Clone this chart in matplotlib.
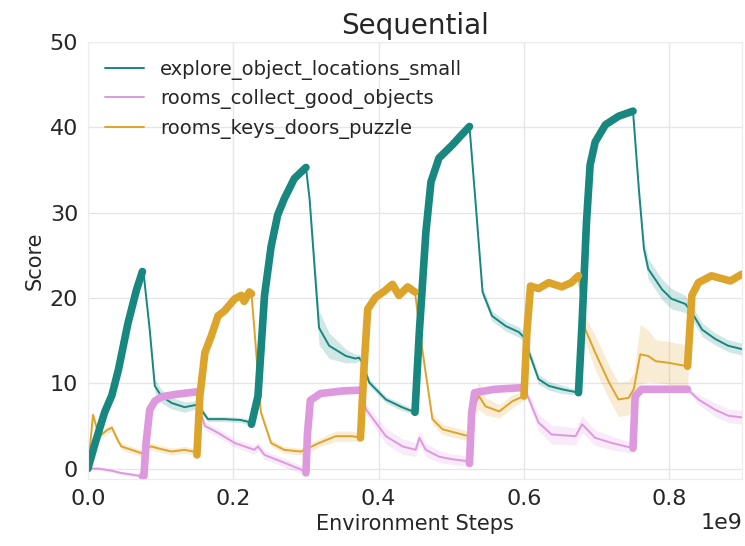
import numpy as np
import matplotlib
matplotlib.use('Agg')
from matplotlib import pyplot as plt
from matplotlib.ticker import MultipleLocator, ScalarFormatter
import seaborn as sns

sns.set_style('whitegrid')
plt.rcParams['font.family'] = ['DejaVu Sans']

# x in units of 1e9 environment steps
explore_x = [0.000, 0.010, 0.023, 0.033, 0.042, 0.055, 0.067, 0.075, 0.077, 0.085,
             0.092, 0.101, 0.115, 0.133, 0.145, 0.151, 0.165, 0.188, 0.210, 0.220,
             0.225, 0.234, 0.243, 0.252, 0.261, 0.270, 0.284, 0.300, 0.305, 0.318,
             0.332, 0.355, 0.368, 0.373, 0.378, 0.387, 0.410, 0.432, 0.450, 0.456,
             0.465, 0.472, 0.483, 0.501, 0.515, 0.525, 0.533, 0.543, 0.556, 0.575,
             0.593, 0.602, 0.607, 0.620, 0.634, 0.652, 0.675, 0.680, 0.686, 0.691,
             0.698, 0.712, 0.730, 0.750, 0.758, 0.765, 0.771, 0.790, 0.803, 0.822,
             0.831, 0.845, 0.863, 0.881, 0.900]
explore_y = [0.0, 3.0, 6.6, 8.6, 11.6, 17.0, 21.0, 23.1, 22.6, 16.3,
             9.7, 8.5, 7.7, 7.2, 7.4, 7.5, 5.8, 5.8, 5.7, 5.5,
             5.2, 8.5, 20.3, 26.0, 29.7, 31.6, 34.0, 35.3, 31.6, 16.5,
             14.4, 13.2, 12.9, 13.0, 12.4, 10.1, 8.1, 7.2, 6.6, 16.0,
             27.7, 33.6, 36.4, 37.9, 39.2, 40.1, 31.6, 20.7, 17.9, 16.7,
             16.0, 15.2, 13.6, 10.5, 9.7, 9.3, 8.9, 17.2, 28.9, 35.6,
             38.3, 40.3, 41.3, 41.9, 32.8, 25.8, 23.4, 21.0, 19.9, 19.3,
             18.3, 16.3, 15.2, 14.4, 14.0]
explore_band = [0.1, 0.3, 0.3, 0.3, 0.3, 0.3, 0.3, 0.3, 0.3, 0.5,
                0.8, 0.8, 0.7, 0.6, 0.5, 0.4, 0.3, 0.3, 0.3, 0.3,
                0.3, 0.3, 0.3, 0.3, 0.3, 0.3, 0.3, 0.3, 0.5, 2.0,
                1.5, 0.8, 0.5, 0.4, 0.4, 0.4, 0.4, 0.4, 0.3, 0.3,
                0.3, 0.3, 0.3, 0.3, 0.3, 0.3, 0.5, 0.6, 0.6, 0.6,
                0.6, 0.6, 0.6, 0.6, 0.5, 0.5, 0.3, 0.3, 0.3, 0.3,
                0.3, 0.3, 0.3, 0.3, 0.6, 1.0, 1.2, 1.2, 1.2, 1.0,
                0.8, 0.8, 0.7, 0.7, 0.7]

collect_x = [0.000, 0.015, 0.030, 0.045, 0.060, 0.075, 0.077, 0.080, 0.085, 0.092,
             0.101, 0.120, 0.150, 0.153, 0.161, 0.179, 0.202, 0.229, 0.234, 0.243,
             0.270, 0.293, 0.300, 0.302, 0.306, 0.320, 0.350, 0.375, 0.383, 0.410,
             0.433, 0.451, 0.456, 0.465, 0.483, 0.501, 0.520, 0.525, 0.528, 0.532,
             0.560, 0.600, 0.607, 0.620, 0.638, 0.671, 0.680, 0.698, 0.721, 0.750,
             0.753, 0.762, 0.800, 0.825, 0.840, 0.863, 0.881, 0.900]
collect_y = [0.0, 0.0, -0.2, -0.5, -0.7, -0.9, -0.9, 3.0, 6.9, 7.9,
             8.4, 8.7, 9.0, 7.0, 5.0, 4.2, 3.0, 2.2, 2.6, 1.6,
             0.7, -0.1, -0.5, 4.0, 8.0, 8.8, 9.1, 9.2, 6.9, 3.8,
             2.6, 2.2, 3.6, 2.2, 1.4, 1.1, 0.9, 0.6, 6.5, 8.9,
             9.3, 9.5, 8.1, 5.4, 4.0, 3.8, 5.2, 3.6, 3.0, 2.4,
             8.5, 9.3, 9.3, 9.3, 8.1, 6.9, 6.2, 6.0]
collect_band = [0.1, 0.2, 0.2, 0.2, 0.2, 0.2, 0.2, 0.2, 0.2, 0.2,
                0.2, 0.2, 0.2, 0.4, 0.5, 0.5, 0.5, 0.5, 0.5, 0.5,
                0.5, 0.5, 0.3, 0.2, 0.2, 0.2, 0.2, 0.2, 0.6, 0.9,
                0.9, 0.8, 0.8, 0.8, 0.7, 0.6, 0.6, 0.3, 0.2, 0.2,
                0.2, 0.2, 0.6, 1.0, 1.1, 1.0, 1.0, 0.9, 0.8, 0.6,
                0.2, 0.2, 0.2, 0.2, 0.6, 0.8, 0.8, 0.8]

keys_x = [0.000, 0.007, 0.012, 0.019, 0.026, 0.033, 0.040, 0.046, 0.060, 0.074,
          0.080, 0.087, 0.100, 0.115, 0.133, 0.145, 0.150, 0.154, 0.161, 0.170,
          0.179, 0.188, 0.202, 0.211, 0.215, 0.222, 0.225, 0.229, 0.238, 0.252,
          0.270, 0.293, 0.318, 0.341, 0.364, 0.375, 0.380, 0.385, 0.396, 0.408,
          0.419, 0.428, 0.440, 0.450, 0.460, 0.474, 0.488, 0.506, 0.524, 0.529,
          0.538, 0.547, 0.566, 0.584, 0.600, 0.604, 0.609, 0.620, 0.634, 0.652,
          0.665, 0.675, 0.684, 0.698, 0.717, 0.730, 0.744, 0.751, 0.760, 0.771,
          0.781, 0.799, 0.825, 0.831, 0.840, 0.858, 0.871, 0.884, 0.900]
keys_y = [0.0, 6.3, 4.8, 4.0, 4.5, 4.8, 3.5, 2.6, 2.2, 1.8,
          2.4, 2.6, 2.3, 2.0, 2.2, 2.0, 1.6, 8.5, 13.6, 15.6,
          17.9, 18.5, 19.9, 20.3, 19.6, 20.7, 20.5, 16.4, 6.6, 3.0,
          2.2, 2.0, 3.0, 3.8, 3.8, 3.6, 12.0, 18.7, 20.1, 20.8,
          21.6, 20.3, 21.3, 20.7, 14.0, 5.8, 4.6, 4.2, 3.8, 6.9,
          8.5, 7.3, 6.7, 7.9, 8.5, 16.0, 21.4, 21.1, 21.8, 21.3,
          21.8, 22.6, 16.4, 13.6, 10.1, 8.1, 8.3, 9.3, 13.4, 13.2,
          12.6, 12.4, 12.0, 20.3, 21.8, 22.6, 22.3, 22.0, 22.8]
keys_band = [0.1, 0.4, 0.4, 0.4, 0.4, 0.4, 0.4, 0.4, 0.4, 0.4,
             0.4, 0.4, 0.4, 0.4, 0.4, 0.4, 0.3, 0.3, 0.3, 0.3,
             0.3, 0.3, 0.3, 0.3, 0.3, 0.3, 0.3, 0.5, 0.5, 0.4,
             0.4, 0.4, 0.5, 0.6, 0.6, 0.4, 0.3, 0.3, 0.3, 0.3,
             0.3, 0.3, 0.3, 0.3, 0.5, 0.6, 0.6, 0.6, 0.6, 1.0,
             1.6, 1.0, 0.8, 0.8, 0.5, 0.3, 0.3, 0.3, 0.3, 0.3,
             0.3, 0.3, 1.5, 2.0, 2.0, 2.0, 2.0, 2.0, 3.5, 3.0,
             2.5, 2.5, 2.5, 0.4, 0.4, 0.4, 0.4, 0.4, 0.4]

labels = ['explore_object_locations_small', 'rooms_collect_good_objects', 'rooms_keys_doors_puzzle']
colors = ['#17877f', '#de99de', '#dda42c']
# training windows (1e9 steps) for each level in the sequential schedule
train_windows = [
    [(0.0, 0.075), (0.225, 0.3), (0.45, 0.525), (0.675, 0.75)],
    [(0.075, 0.15), (0.3, 0.375), (0.525, 0.6), (0.75, 0.825)],
    [(0.15, 0.225), (0.375, 0.45), (0.6, 0.675), (0.825, 0.9)],
]

series = [(explore_x, explore_y, explore_band),
          (collect_x, collect_y, collect_band),
          (keys_x, keys_y, keys_band)]

fig = plt.figure(figsize=(7.45, 5.46), dpi=100)
ax = fig.add_subplot(111)
fig.subplots_adjust(left=0.118, right=0.996, top=0.923, bottom=0.123)

for (xs, ys, bd), c, lab in zip(series, colors, labels):
    xs = np.array(xs) * 1e9
    ys = np.array(ys)
    bd = np.array(bd)
    ax.fill_between(xs, ys - bd, ys + bd, color=c, alpha=0.2, linewidth=0)
    ax.plot(xs, ys, color=c, lw=1.4, label=lab)

for (xs, ys, bd), c, wins in zip(series, colors, train_windows):
    xs = np.array(xs)
    ys = np.array(ys)
    for a, b in wins:
        m = (xs >= a - 1e-9) & (xs <= b + 1e-9)
        ax.plot(xs[m] * 1e9, ys[m], color=c, lw=5.5, solid_capstyle='round',
                solid_joinstyle='round')

ax.set_xlim(0, 0.9e9)
ax.set_ylim(-1.2, 50)
ax.xaxis.set_major_locator(MultipleLocator(0.2e9))
fmt = ScalarFormatter()
fmt.set_powerlimits((9, 9))
ax.xaxis.set_major_formatter(fmt)
ax.yaxis.set_major_locator(MultipleLocator(10))
ax.grid(color='#e6e6e6', lw=1)
for sp in ax.spines.values():
    sp.set_color('#ececec')
ax.tick_params(labelsize=16, colors='#262626')
ax.xaxis.get_offset_text().set_fontsize(16)
ax.set_xlabel('Environment Steps', fontsize=15, color='#262626')
ax.set_ylabel('Score', fontsize=15, color='#262626')
ax.set_title('Sequential', fontsize=20, color='#262626')
ax.legend(loc='upper left', frameon=False, fontsize=14, handlelength=2.0)

plt.savefig('out.png', dpi=100)
plt.close()
